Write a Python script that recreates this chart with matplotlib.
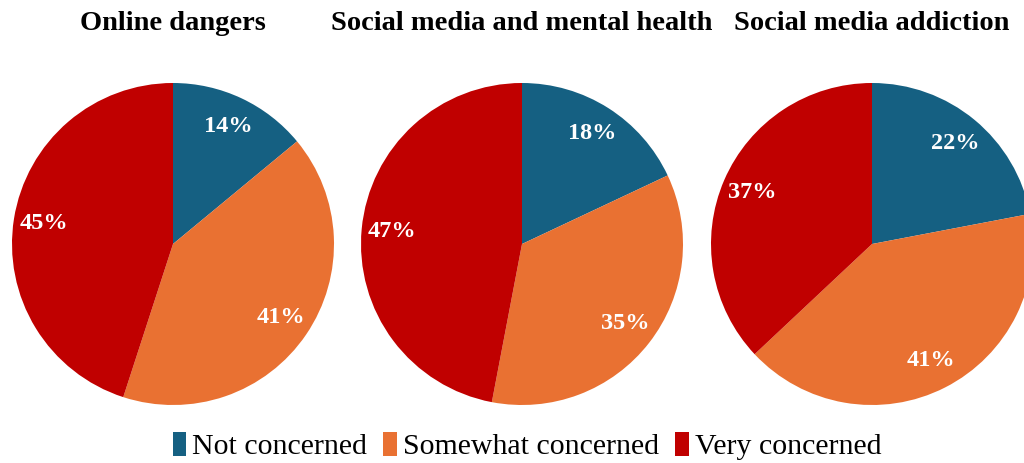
import matplotlib
matplotlib.use('Agg')
import matplotlib.pyplot as plt
from matplotlib.patches import Patch

plt.rcParams['font.family'] = ['Liberation Serif', 'DejaVu Serif']

BLUE = '#156082'
ORANGE = '#E97132'
RED = '#C00000'

categories = ['Not concerned', 'Somewhat concerned', 'Very concerned']
titles = ['Online dangers', 'Social media and mental health', 'Social media addiction']
online_dangers = [14, 41, 45]
mental_health = [18, 35, 47]
addiction = [22, 41, 37]
colors = [BLUE, ORANGE, RED]

W, H = 1024, 463
fig = plt.figure(figsize=(W / 100, H / 100), dpi=100, facecolor='white')

centers_x = [173, 522, 872]
cy = 244
r = 161

for cx, title, vals in zip(centers_x, titles, [online_dangers, mental_health, addiction]):
    ax = fig.add_axes([(cx - r) / W, (H - cy - r) / H, 2 * r / W, 2 * r / H])
    wedges, texts, autotexts = ax.pie(vals, colors=colors, startangle=90, counterclock=False,
                                      radius=1, autopct='%d%%', pctdistance=0.81,
                                      wedgeprops=dict(linewidth=0))
    for t in autotexts:
        t.set_color('white')
        t.set_fontsize(17.5)
        t.set_fontweight('bold')
    ax.set_xlim(-1, 1)
    ax.set_ylim(-1, 1)
    ax.set_aspect('equal')
    ax.axis('off')
    fig.text(cx / W, (H - 23) / H, title, ha='center', va='center',
             fontsize=20.5, fontweight='bold')

handles = [Patch(facecolor=c, edgecolor='none') for c in colors]
fig.legend(handles, categories, loc='center', bbox_to_anchor=(527 / W, (H - 446) / H),
           ncol=3, frameon=False, fontsize=21.5, handlelength=0.45, handleheight=0.9,
           handletextpad=0.2, columnspacing=0.55)

plt.savefig('out.png', dpi=100, facecolor='white')
plt.close()
